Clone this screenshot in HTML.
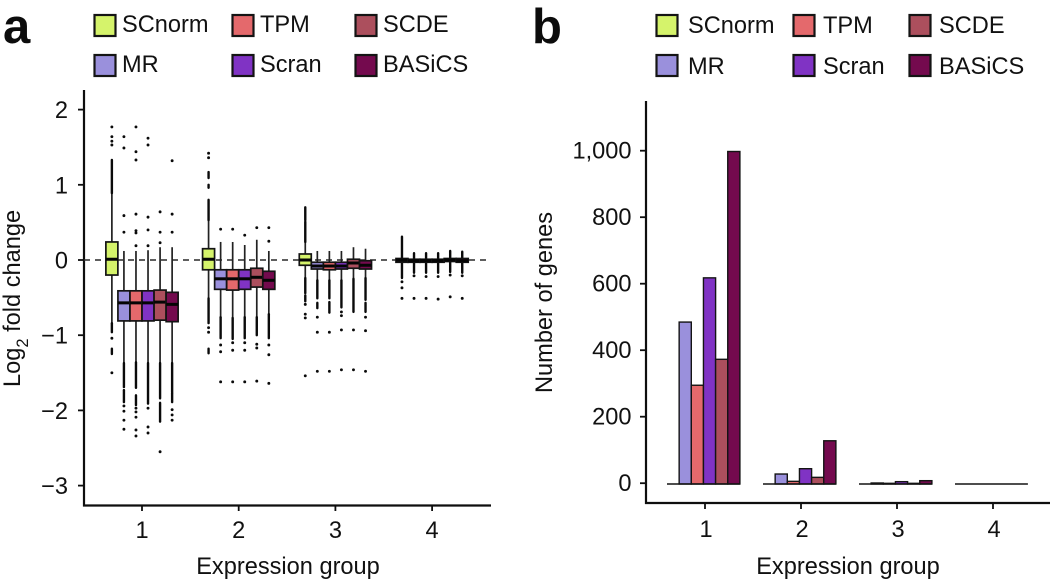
<!DOCTYPE html>
<html>
<head>
<meta charset="utf-8">
<style>
html,body{margin:0;padding:0;background:#fff;}
#chart{display:block;width:1050px;height:581px;filter:blur(0.35px);}
text{font-family:"Liberation Sans",sans-serif;font-size:23.6px;fill:#111;}
.panel{font-size:49px;font-weight:bold;fill:#0c0c0c;}
</style>
</head>
<body>
<svg id="chart" xmlns="http://www.w3.org/2000/svg" width="1050" height="581" viewBox="0 0 1050 581">
  <text class="panel" x="3" y="43">a</text>
  <text class="panel" x="532" y="43">b</text>
  <g id="legendA"></g>
  <g id="legendB"></g>
  <g id="plotA"></g>
  <g id="plotB"></g>
  <text x="20" y="0" transform="translate(20,387) rotate(-90) translate(-20,0)">Log<tspan dy="8" font-size="16.5" style="font-size:16.5px">2</tspan><tspan dy="-8"> fold change</tspan></text>
  <text x="288" y="574" text-anchor="middle">Expression group</text>
  <text x="0" y="0" transform="translate(552,302.5) rotate(-90)" text-anchor="middle">Number of genes</text>
  <text x="848" y="574" text-anchor="middle">Expression group</text>
</svg>
<script>
const methods = ['SCnorm','MR','TPM','Scran','SCDE','BASiCS'];
const colors = ['#d5f36b','#9a90dc','#e4696c','#8033c4','#ac4f5d','#740a4e'];
const groups = ['1','2','3','4'];

// Panel a: log2 fold change box statistics (rows = groups, columns = methods)
const boxQ3 = [
  [0.24,-0.41,-0.41,-0.41,-0.40,-0.43],
  [0.15,-0.13,-0.13,-0.13,-0.11,-0.15],
  [0.08,-0.03,-0.03,-0.03,0.01,-0.01],
  [0.02,0.01,0.01,0.01,0.02,0.02]
];
const boxMedian = [
  [0.01,-0.57,-0.57,-0.57,-0.56,-0.59],
  [0.01,-0.25,-0.25,-0.25,-0.23,-0.27],
  [0.00,-0.08,-0.08,-0.08,-0.04,-0.07],
  [0.00,-0.01,-0.01,-0.01,0.00,-0.01]
];
const boxQ1 = [
  [-0.20,-0.81,-0.81,-0.81,-0.80,-0.82],
  [-0.13,-0.39,-0.40,-0.39,-0.36,-0.39],
  [-0.07,-0.12,-0.13,-0.12,-0.11,-0.12],
  [-0.03,-0.03,-0.03,-0.03,-0.02,-0.03]
];
const whiskerHigh = [
  [0.89,0.12,0.12,0.13,0.17,0.17],
  [0.80,0.24,0.24,0.20,0.27,0.12],
  [0.24,0.12,0.12,0.12,0.17,0.15],
  [0.31,0.09,0.09,0.09,0.12,0.11]
];
const whiskerLow = [
  [-0.84,-1.37,-1.36,-1.37,-1.37,-1.37],
  [-0.51,-0.76,-0.77,-0.76,-0.76,-0.72],
  [-0.24,-0.27,-0.27,-0.27,-0.25,-0.24],
  [-0.24,-0.17,-0.17,-0.17,-0.16,-0.17]
];
// Runs of overlapping outliers, as [from, to] pairs
const outlierRuns = [
  [
    [[1.33,0.89],[-0.84,-0.96],[-1.18,-1.25]],
    [[-1.37,-1.69],[-1.73,-1.89]],
    [[-1.36,-1.70],[-1.80,-1.93]],
    [[-1.37,-1.91]],
    [[-1.37,-1.84],[-1.90,-2.15]],
    [[-1.37,-1.76],[-1.77,-1.89]]
  ],
  [
    [[0.80,0.53],[1.17,1.09],[1.00,0.96],[-0.51,-0.84],[-1.18,-1.24]],
    [[-0.76,-1.04]],
    [[-0.77,-1.05]],
    [[-0.76,-1.04]],
    [[-0.76,-1.00]],
    [[-0.72,-1.04]]
  ],
  [
    [[0.70,0.53],[0.51,0.24],[-0.24,-0.44],[-0.47,-0.55]],
    [[-0.27,-0.51],[-0.57,-0.64]],
    [[-0.27,-0.51],[-0.56,-0.70]],
    [[-0.27,-0.63]],
    [[-0.25,-0.69]],
    [[-0.24,-0.53],[-0.57,-0.69]]
  ],
  [
    [[0.31,0.03],[-0.03,-0.24]],
    [[0.09,0.02],[-0.03,-0.17]],
    [[0.09,0.02],[-0.03,-0.17]],
    [[0.09,0.02],[-0.03,-0.17]],
    [[0.12,0.03],[-0.03,-0.16]],
    [[0.11,0.03],[-0.03,-0.17]]
  ]
];
// Isolated outliers
const outlierPoints = [
  [
    [1.77,1.64,1.58,1.53,-1.04,-1.50],
    [1.64,1.49,0.59,0.37,-1.94,-2.01,-2.13,-2.25],
    [1.77,1.44,1.33,0.61,0.39,0.36,0.19,-1.97,-2.02,-2.09,-2.26,-2.34],
    [1.62,1.53,0.57,0.40,0.19,-1.97,-2.22,-2.30],
    [0.64,0.37,0.23,-2.55],
    [1.32,0.61,0.37,-1.99,-2.06,-2.13]
  ],
  [
    [1.42,1.36,-0.90,-0.96],
    [0.41,-1.13,-1.22,-1.62],
    [0.41,-1.10,-1.20,-1.62],
    [0.33,-1.10,-1.20,-1.62],
    [0.43,-1.12,-1.17,-1.61],
    [0.43,0.25,-1.13,-1.26,-1.64]
  ],
  [
    [-0.59,-0.72,-0.77,-1.54],
    [-0.76,-0.96,-1.48],
    [-0.96,-1.48],
    [-0.69,-0.74,-0.93,-1.46],
    [-0.93,-1.46],
    [-0.76,-0.94,-1.48]
  ],
  [
    [-0.29,-0.37,-0.51],
    [-0.21,-0.51],
    [-0.22,-0.51],
    [-0.22,-0.52],
    [-0.20,-0.49],
    [-0.21,-0.51]
  ]
];
const yTicksA = [2,1,0,-1,-2,-3];
const yTickLabelsA = ['2','1','0','\u22121','\u22122','\u22123'];

// Panel b: number of genes (rows = groups, columns = methods)
const geneCounts = [
  [0,487,297,620,375,1000],
  [0,30,8,46,20,130],
  [0,3,2,7,2,10],
  [0,0,0,0,0,0]
];
const yTicksB = [0,200,400,600,800,1000];
const yTickLabelsB = ['0','200','400','600','800','1,000'];

const NS = 'http://www.w3.org/2000/svg';
function mk(parent, tag, props, txt) {
  const el = document.createElementNS(NS, tag);
  for (const k in props) el.setAttribute(k, props[k]);
  if (txt !== undefined) el.textContent = txt;
  parent.appendChild(el);
  return el;
}
const yA = v => 260 - v * 75.2;
const groupXA = g => 142 + g * 96.7;
const xA = (g, m) => groupXA(g) + (m - 2.5) * 12.05;
const yB = v => 484 - v * 0.3325;
const groupXB = g => 705 + g * 96;
const xB = (g, m) => 667 + g * 96 + m * 12.15;
const INK = '#0e0e0e';

function drawLegend(root, swatchX, textX, baselines) {
  const order = [[0,0],[1,1],[2,0],[3,1],[4,0],[5,1]];
  order.forEach(function (o, i) {
    const col = Math.floor(i / 2), row = o[1];
    const g = mk(root, 'g', {});
    
    
    const sw = mk(g, 'rect', {x: swatchX[col], y: 15 + row * 40, width: 21, height: 21, fill: colors[o[0]], stroke: '#141414', 'stroke-width': 2.2});
    
    
    const t = mk(g, 'text', {x: textX[col], y: baselines[row]}, methods[o[0]]);
    
    
  });
}
drawLegend(document.getElementById('legendA'), [94.5,232.5,355.5], [122,260,383], [32,72]);
drawLegend(document.getElementById('legendB'), [656.5,793.5,909.5], [688,823,939], [33,74]);

// ---- Panel a ----
const pa = document.getElementById('plotA');
const axYA = mk(pa, 'line', {x1: 84, x2: 84, y1: 90, y2: 506.5, stroke: INK, 'stroke-width': 2.2});


const axXA = mk(pa, 'line', {x1: 83, x2: 491, y1: 505.5, y2: 505.5, stroke: INK, 'stroke-width': 2.2});


yTicksA.forEach(function (v, i) {
  const tk = mk(pa, 'line', {x1: 78, x2: 84, y1: yA(v), y2: yA(v), stroke: INK, 'stroke-width': 1.8});
  
  
  const lb = mk(pa, 'text', {x: 68, y: yA(v) + 8.5, 'text-anchor': 'end'}, yTickLabelsA[i]);
  
  
});
groups.forEach(function (name, g) {
  const tk = mk(pa, 'line', {x1: groupXA(g), x2: groupXA(g), y1: 505.5, y2: 511, stroke: INK, 'stroke-width': 1.8});
  
  
  const lb = mk(pa, 'text', {x: groupXA(g), y: 538, 'text-anchor': 'middle'}, name);
  
  
});
const zero = mk(pa, 'line', {x1: 84, x2: 491, y1: yA(0), y2: yA(0), stroke: '#2a2a2a', 'stroke-width': 1.5, 'stroke-dasharray': '6 5'});



groups.forEach(function (name, g) {
  methods.forEach(function (method, m) {
    const x = xA(g, m);
    const wh = mk(pa, 'line', {x1: x, x2: x, y1: yA(whiskerHigh[g][m]), y2: yA(whiskerLow[g][m]), stroke: '#222', 'stroke-width': 1.7});
    
    
    outlierRuns[g][m].forEach(function (run) {
      const r = mk(pa, 'line', {x1: x, x2: x, y1: yA(run[0]), y2: yA(run[1]), stroke: '#0a0a0a', 'stroke-width': 2.4, 'stroke-linecap': 'round'});
      
      
    });
    outlierPoints[g][m].forEach(function (v) {
      const p = mk(pa, 'circle', {cx: x, cy: yA(v), r: 1.45, fill: '#0a0a0a'});
      
      
    });
  });
});
groups.forEach(function (name, g) {
  methods.forEach(function (method, m) {
    const x = xA(g, m);
    const top = yA(boxQ3[g][m]), bot = yA(boxQ1[g][m]);
    const b = mk(pa, 'rect', {x: x - 6, y: top, width: 12, height: bot - top, fill: colors[m], stroke: '#141414', 'stroke-width': 1.7});
    
    
    const md = mk(pa, 'line', {x1: x - 6, x2: x + 6, y1: yA(boxMedian[g][m]), y2: yA(boxMedian[g][m]), stroke: '#050505', 'stroke-width': 3});
    
    
  });
});

// ---- Panel b ----
const pb = document.getElementById('plotB');
const axYB = mk(pb, 'line', {x1: 646, x2: 646, y1: 101, y2: 504, stroke: INK, 'stroke-width': 2.2});


const axXB = mk(pb, 'line', {x1: 645, x2: 1050, y1: 503, y2: 503, stroke: INK, 'stroke-width': 2.2});


yTicksB.forEach(function (v, i) {
  const tk = mk(pb, 'line', {x1: 640, x2: 646, y1: yB(v) - 0.8, y2: yB(v) - 0.8, stroke: INK, 'stroke-width': 1.8});
  
  
  const lb = mk(pb, 'text', {x: 631.5, y: yB(v) + 7, 'text-anchor': 'end'}, yTickLabelsB[i]);
  
  
});
groups.forEach(function (name, g) {
  const tk = mk(pb, 'line', {x1: groupXB(g), x2: groupXB(g), y1: 503, y2: 509, stroke: INK, 'stroke-width': 1.8});
  
  
  const lb = mk(pb, 'text', {x: groupXB(g) + 1, y: 537, 'text-anchor': 'middle'}, name);
  
  
});
groups.forEach(function (name, g) {
  methods.forEach(function (method, m) {
    const v = geneCounts[g][m];
    const bar = mk(pb, 'rect', {x: xB(g, m), y: yB(v), width: 12.15, height: yB(0) - yB(v), fill: colors[m], stroke: '#141414', 'stroke-width': 1.4});
    
    
  });
  const base = mk(pb, 'line', {x1: xB(g, 0), x2: xB(g, 6), y1: yB(0), y2: yB(0), stroke: '#141414', 'stroke-width': 1.5});
  
  
});
</script>
</body>
</html>
